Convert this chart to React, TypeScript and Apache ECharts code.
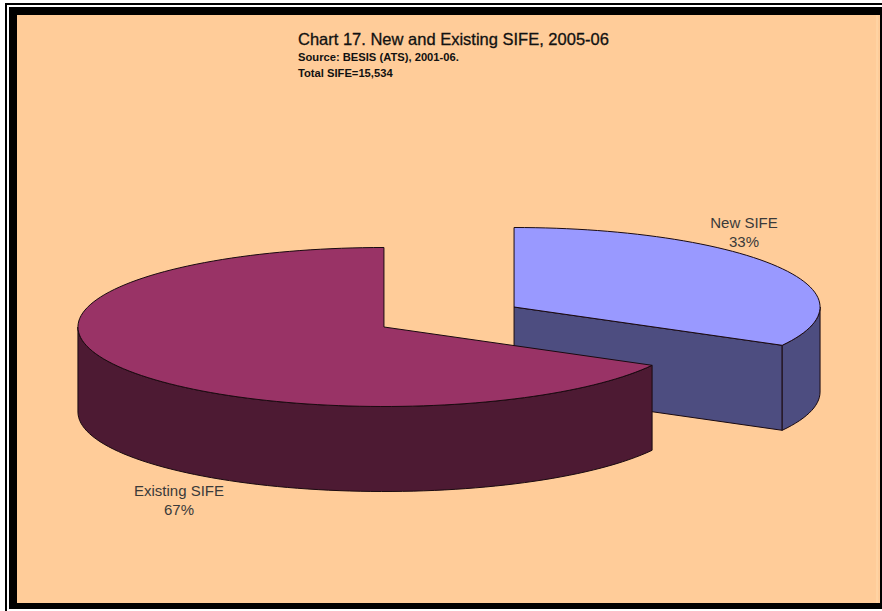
import React, { useEffect, useRef } from "react";
import * as echarts from "echarts";

const categories = ["New SIFE", "Existing SIFE"];
const shares = [33, 67];
const topColors = ["#9999ff", "#993366"];
const wallColors = ["#4d4d80", "#4d1a33"];
const labelAnchors = [
  [744, 232],
  [179, 500],
];
const titleLines = [
  "Chart 17. New and Existing SIFE, 2005-06",
  "Source: BESIS (ATS), 2001-06.",
  "Total SIFE=15,534",
];

// Pie geometry, as a flattened disc with an extruded wall.
const pieCenter = [449, 317];
const radiusX = 306;
const radiusY = 79.5;
const depth = 85;
const explode = 0.247;
const outline = "#1a0a10";
const fontFamily = '"Liberation Sans", Arial, sans-serif';

const total = shares.reduce((a, b) => a + b, 0);

// Clockwise angle from twelve o'clock, in radians, projected on the ellipse.
const onEllipse = (cx: number, cy: number, a: number, dy = 0): [number, number] => [
  cx + radiusX * Math.sin(a),
  cy - radiusY * Math.cos(a) + dy,
];

const arcPoints = (cx: number, cy: number, from: number, to: number, dy = 0) => {
  const steps = Math.max(2, Math.ceil((Math.abs(to - from) / Math.PI) * 90));
  const pts: [number, number][] = [];
  for (let i = 0; i <= steps; i++) {
    pts.push(onEllipse(cx, cy, from + ((to - from) * i) / steps, dy));
  }
  return pts;
};

const poly = (points: [number, number][], fill: string) => ({
  type: "polygon",
  shape: { points },
  style: { fill, stroke: outline, lineWidth: 1, lineJoin: "round" },
});

const sliceAngles = (index: number) => {
  const before = shares.slice(0, index).reduce((a, b) => a + b, 0);
  return [(before / total) * 2 * Math.PI, ((before + shares[index]) / total) * 2 * Math.PI];
};

const renderSlice = (params: any, api: any) => {
  const i = params.dataIndex;
  const [start, end] = sliceAngles(i);
  const mid = (start + end) / 2;
  const cx = pieCenter[0] + radiusX * explode * Math.sin(mid);
  const cy = pieCenter[1] - radiusY * explode * Math.cos(mid);
  const children: any[] = [];
  const wall = wallColors[i];

  // Cut face at the end of the slice's sweep, seen when it points toward the viewer.
  const cutAngle = start < Math.PI / 2 ? end : null;
  if (cutAngle !== null && Math.sin(cutAngle) > 0) {
    const rim = onEllipse(cx, cy, cutAngle);
    children.push(
      poly([[cx, cy], rim, [rim[0], rim[1] + depth], [cx, cy + depth]], wall),
    );
  }

  // Outer wall: only the part of the rim on the near half of the disc.
  const wallFrom = Math.max(start, Math.PI / 2);
  const wallTo = Math.min(end, (3 * Math.PI) / 2);
  if (wallTo > wallFrom) {
    children.push(
      poly(
        [
          ...arcPoints(cx, cy, wallFrom, wallTo),
          ...arcPoints(cx, cy, wallTo, wallFrom, depth),
        ],
        wall,
      ),
    );
  }

  // Top face.
  children.push(poly([[cx, cy], ...arcPoints(cx, cy, start, end)], topColors[i]));

  // Slice label with its share.
  children.push({
    type: "text",
    x: labelAnchors[i][0],
    y: labelAnchors[i][1],
    style: {
      text: `${categories[i]}\n${api.value(0)}%`,
      fill: "#3a3a3a",
      font: `15px ${fontFamily}`,
      align: "center",
      verticalAlign: "middle",
      lineHeight: 19,
    },
  });
  return { type: "group", children };
};

export default function App() {
  const ref = useRef<HTMLDivElement>(null);
  useEffect(() => {
    document.body.style.margin = "0";
    const chart = echarts.init(ref.current!, null, { renderer: "svg" });
    const rect = (x: number, y: number, width: number, height: number, fill: string) => ({
      type: "rect",
      silent: true,
      shape: { x, y, width, height },
      style: { fill },
    });
    chart.setOption({
      animation: false,
      backgroundColor: "#ffffff",
      title: [
        {
          text: titleLines[0],
          left: 293,
          top: 25,
          textStyle: {
            fontFamily,
            fontSize: 16.5,
            fontWeight: "normal",
            color: "#111111",
            textBorderColor: "#111111",
            textBorderWidth: 0.3,
          },
        },
        {
          text: titleLines[1],
          left: 293,
          top: 46,
          textStyle: { fontFamily, fontSize: 11.2, fontWeight: "bold", color: "#111111" },
        },
        {
          text: titleLines[2],
          left: 293,
          top: 62,
          textStyle: { fontFamily, fontSize: 11.2, fontWeight: "bold", color: "#111111" },
        },
      ],
      graphic: [
        // Double-ruled page frame around the beige plot panel.
        rect(5, 3, 877, 608, "#000000"),
        rect(7, 5, 875, 2, "#ffffff"),
        rect(7, 5, 2, 606, "#ffffff"),
        rect(7, 609, 875, 2, "#ffffff"),
        rect(9, 7, 873, 602, "#000000"),
        rect(17, 15, 863, 588, "#ffcc99"),
        rect(876, 15, 2, 588, "#ffd3a3"),
      ],
      series: [
        {
          type: "custom",
          coordinateSystem: "none",
          renderItem: renderSlice,
          data: shares.map((v, i) => ({ name: categories[i], value: [v] })),
          z: 5,
        },
      ],
    });
    return () => chart.dispose();
  }, []);
  return <div ref={ref} style={{ position: "absolute", left: 0, top: 0, width: 882, height: 611 }} />;
}
